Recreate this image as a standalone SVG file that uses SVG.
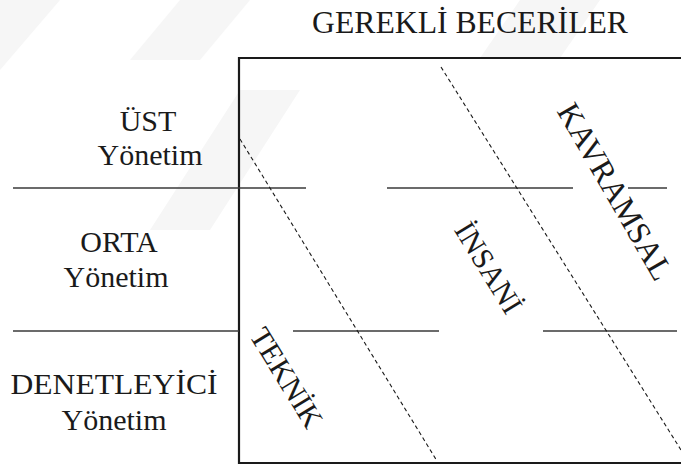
<svg xmlns="http://www.w3.org/2000/svg" width="681" height="466" viewBox="0 0 681 466">
<style>
.t{font-family:"Liberation Serif","Times New Roman",serif;font-size:30px;fill:#1a1a1a}
.box{fill:none;stroke:#1a1a1a;stroke-width:2.2}
.h{stroke:#3a3a3a;stroke-width:1.6}
.d{stroke:#1a1a1a;stroke-width:1.1;stroke-dasharray:4 3;fill:none}
.wm{fill:#f6f6f6}
</style>
<rect width="681" height="466" fill="#fff"/>
<g id="watermark">
<polygon class="wm" points="180,0 250,0 200,60 130,60"/>
<polygon class="wm" points="520,0 600,0 560,58 480,58"/>
<polygon class="wm" points="240,90 300,90 210,230 150,230"/>
<polygon class="wm" points="0,0 60,0 0,70"/>
</g>
<g id="connectors">
<path class="box" d="M681,58 H239 V463 H681"/>
<line class="h" x1="13" y1="188" x2="306" y2="188"/>
<line class="h" x1="387" y1="188" x2="573" y2="188"/>
<line class="h" x1="628" y1="188" x2="667" y2="188"/>
<line class="h" x1="13" y1="331" x2="239" y2="331"/>
<line class="h" x1="293" y1="331" x2="439" y2="331"/>
<line class="h" x1="543" y1="331" x2="677" y2="331"/>
<line class="d" x1="240" y1="139" x2="437" y2="461"/>
<line class="d" x1="441" y1="67" x2="681" y2="450"/>
</g>
<g id="title"><text class="t" x="470" y="33" text-anchor="middle" textLength="316" lengthAdjust="spacingAndGlyphs" style="font-size:31px">GEREKLİ BECERİLER</text></g>
<g id="ust"><text class="t" x="148" y="131" text-anchor="middle">ÜST</text><text class="t" x="150" y="165" text-anchor="middle">Yönetim</text></g>
<g id="orta"><text class="t" x="119" y="252" text-anchor="middle">ORTA</text><text class="t" x="116" y="287" text-anchor="middle">Yönetim</text></g>
<g id="denetleyici"><text class="t" x="114" y="394" text-anchor="middle" textLength="207" lengthAdjust="spacingAndGlyphs">DENETLEYİCİ</text><text class="t" x="114" y="430" text-anchor="middle">Yönetim</text></g>
<g id="teknik"><text class="t" text-anchor="middle" transform="translate(278,383) rotate(58.5)">TEKNİK</text></g>
<g id="insani"><text class="t" text-anchor="middle" transform="translate(480,273) rotate(58.5)">İNSANİ</text></g>
<g id="kavramsal"><text class="t" text-anchor="middle" transform="translate(606,197) rotate(60)" style="font-size:32px">KAVRAMSAL</text></g>
</svg>
